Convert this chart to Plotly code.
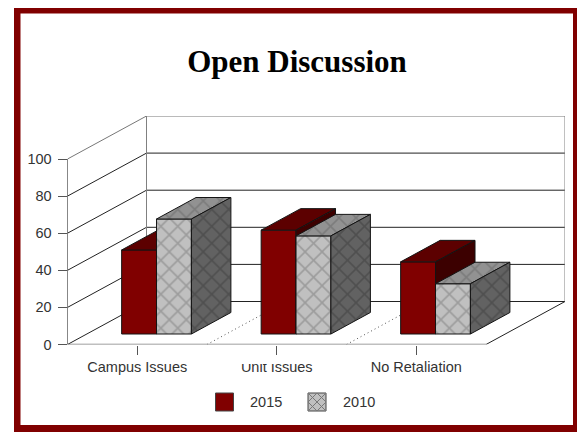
import plotly.graph_objects as go

# Survey results by category
categories = ["Campus Issues", "Unit Issues", "No Retaliation"]
values_2015 = [45.3, 56, 38.9]
values_2010 = [62, 52.9, 27.1]
y_ticks = [0, 20, 40, 60, 80, 100]

W, H = 577, 432
LEFT, RIGHT, TOP, BOTTOM = 67.5, 565.0, 116.0, 344.5   # plot area in px
CAT_PX = 139.5                 # width of one category on the front edge
UNIT_PX = (344.5 - 159.0) / 100  # px per value unit

# Oblique projection: depth 0..1 shifts a point right and up
DX = (RIGHT - LEFT - 3 * CAT_PX) / CAT_PX
DY = (BOTTOM - TOP - 100 * UNIT_PX) / UNIT_PX


def proj(x, y, d=0.0):
    return x + DX * d, y + DY * d


def poly(corners, fill, name, line="#141414", pattern=None, width=1):
    xs, ys = zip(*[proj(*c) for c in corners])
    kw = {}
    if pattern:
        kw["fillpattern"] = dict(shape="x", size=12, solidity=0.25,
                                 fgcolor=pattern, bgcolor=fill)
    return go.Scatter(x=list(xs), y=list(ys), mode="lines", fill="toself",
                      fillcolor=fill, line=dict(color=line, width=width),
                      hoverinfo="skip", showlegend=False, name=name, **kw)


def seg(pts, color="#222222", width=1, dash="solid"):
    xs, ys = zip(*[proj(*p) for p in pts])
    return go.Scatter(x=list(xs), y=list(ys), mode="lines",
                      line=dict(color=color, width=width, dash=dash),
                      hoverinfo="skip", showlegend=False)


fig = go.Figure()

# Walls and floor
for v in y_ticks[1:]:
    fig.add_trace(seg([(0, v, 0), (0, v, 1), (3, v, 1)],
                      color="#777777" if v == 100 else "#222222"))
fig.add_trace(seg([(0, 0, 0), (0, 0, 1), (3, 0, 1), (3, 0, 0)]))
fig.add_trace(seg([(0, 0, 1), (0, 100, 1)], color="#808080"))
fig.add_trace(seg([(3, 0, 1), (3, 100, 1)], color="#808080"))
for c in (1, 2):
    fig.add_trace(seg([(c, 0, 0), (c, 0, 1)], color="#555555", dash="1px,3px"))

# Bars
D0, D1 = 0.244, 0.744
BAR = 0.25
STYLE = {
    "2015": dict(front="#800000", top="#5c0000", side="#3c0000", p=(None, None, None)),
    "2010": dict(front="#c0c0c0", top="#929292", side="#626262",
                 p=("#787878", "#666666", "#3c3c3c")),
}


def add_bar(x0, v, s, label):
    x1 = x0 + BAR
    fp, tp, sp = s["p"]
    fig.add_trace(poly([(x0, 0, D0), (x1, 0, D0), (x1, v, D0), (x0, v, D0), (x0, 0, D0)],
                       s["front"], label, pattern=fp))
    fig.add_trace(poly([(x0, v, D0), (x1, v, D0), (x1, v, D1), (x0, v, D1), (x0, v, D0)],
                       s["top"], label, pattern=tp))
    fig.add_trace(poly([(x1, 0, D0), (x1, 0, D1), (x1, v, D1), (x1, v, D0), (x1, 0, D0)],
                       s["side"], label, pattern=sp))


for i in range(len(categories)):
    add_bar(i + 0.25, values_2015[i], STYLE["2015"], "2015")
    add_bar(i + 0.50, values_2010[i], STYLE["2010"], "2010")

# Front axis edges
fig.add_trace(seg([(0, 0, 0), (3, 0, 0)], color="#808080", width=1.6))
fig.add_trace(seg([(0, 0, 0), (0, 100, 0)], color="#111111"))


def px(x):
    return x / W


def py(y):
    return 1 - y / H


shapes = [
    # Page frame: dark red panel with a white inset
    dict(type="rect", xref="paper", yref="paper", x0=px(14), x1=px(577),
         y0=py(432), y1=py(8), fillcolor="#800000", line=dict(width=0), layer="below"),
    dict(type="rect", xref="paper", yref="paper", x0=px(20.5), x1=px(573),
         y0=py(425), y1=py(13.5), fillcolor="white", line=dict(width=0), layer="below"),
    # Band that trims the middle category label
    dict(type="rect", xref="paper", yref="paper", x0=px(235), x1=px(320),
         y0=py(364), y1=py(356), fillcolor="white", line=dict(width=0), layer="above"),
    # Legend swatches
    dict(type="rect", xref="paper", yref="paper", x0=px(215.5), x1=px(233.5),
         y0=py(411), y1=py(393), fillcolor="#800000", line=dict(color="#444444", width=1)),
    dict(type="rect", xref="paper", yref="paper", x0=px(308), x1=px(326),
         y0=py(411), y1=py(393), fillcolor="#c0c0c0", line=dict(color="#444444", width=1)),
    dict(type="path", xref="paper", yref="paper",
         path=" ".join([
             f"M{px(308)},{py(393)} L{px(326)},{py(411)}",
             f"M{px(326)},{py(393)} L{px(308)},{py(411)}",
             f"M{px(317)},{py(393)} L{px(326)},{py(402)} L{px(317)},{py(411)} L{px(308)},{py(402)} Z",
         ]),
         line=dict(color="#777777", width=1)),
]

annotations = [
    dict(text="2015", xref="paper", yref="paper", x=px(266), y=py(402), showarrow=False,
         xanchor="center", yanchor="middle",
         font=dict(family="Liberation Sans", size=14.5, color="#333333")),
    dict(text="2010", xref="paper", yref="paper", x=px(359), y=py(402), showarrow=False,
         xanchor="center", yanchor="middle",
         font=dict(family="Liberation Sans", size=14.5, color="#333333")),
]

fig.update_layout(
    width=W, height=H,
    margin=dict(l=0, r=0, t=0, b=0),
    paper_bgcolor="white", plot_bgcolor="rgba(0,0,0,0)",
    showlegend=False,
    title=dict(text="<b>Open Discussion</b>", x=297 / W, xanchor="center",
               y=py(61), yanchor="middle", automargin=False,
               font=dict(family="Liberation Serif", size=31, color="black")),
    shapes=shapes, annotations=annotations,
    xaxis=dict(domain=[LEFT / W, RIGHT / W], range=[0, 3 + DX], showgrid=False,
               automargin=False, zeroline=False, showline=False,
               tickmode="array", tickvals=[0.5, 1.5, 2.5], ticktext=categories,
               ticks="outside", ticklen=9, tickcolor="#555555",
               tickfont=dict(family="Liberation Sans", size=14.5, color="#333333")),
    yaxis=dict(domain=[1 - BOTTOM / H, 1 - TOP / H], range=[0, 100 + DY], showgrid=False,
               automargin=False, zeroline=False, showline=False,
               tickmode="array", tickvals=y_ticks, ticklabelstandoff=3,
               ticks="outside", ticklen=9, tickcolor="#555555",
               tickfont=dict(family="Liberation Sans", size=14.5, color="#333333")),
)

fig.write_html("out.html")
